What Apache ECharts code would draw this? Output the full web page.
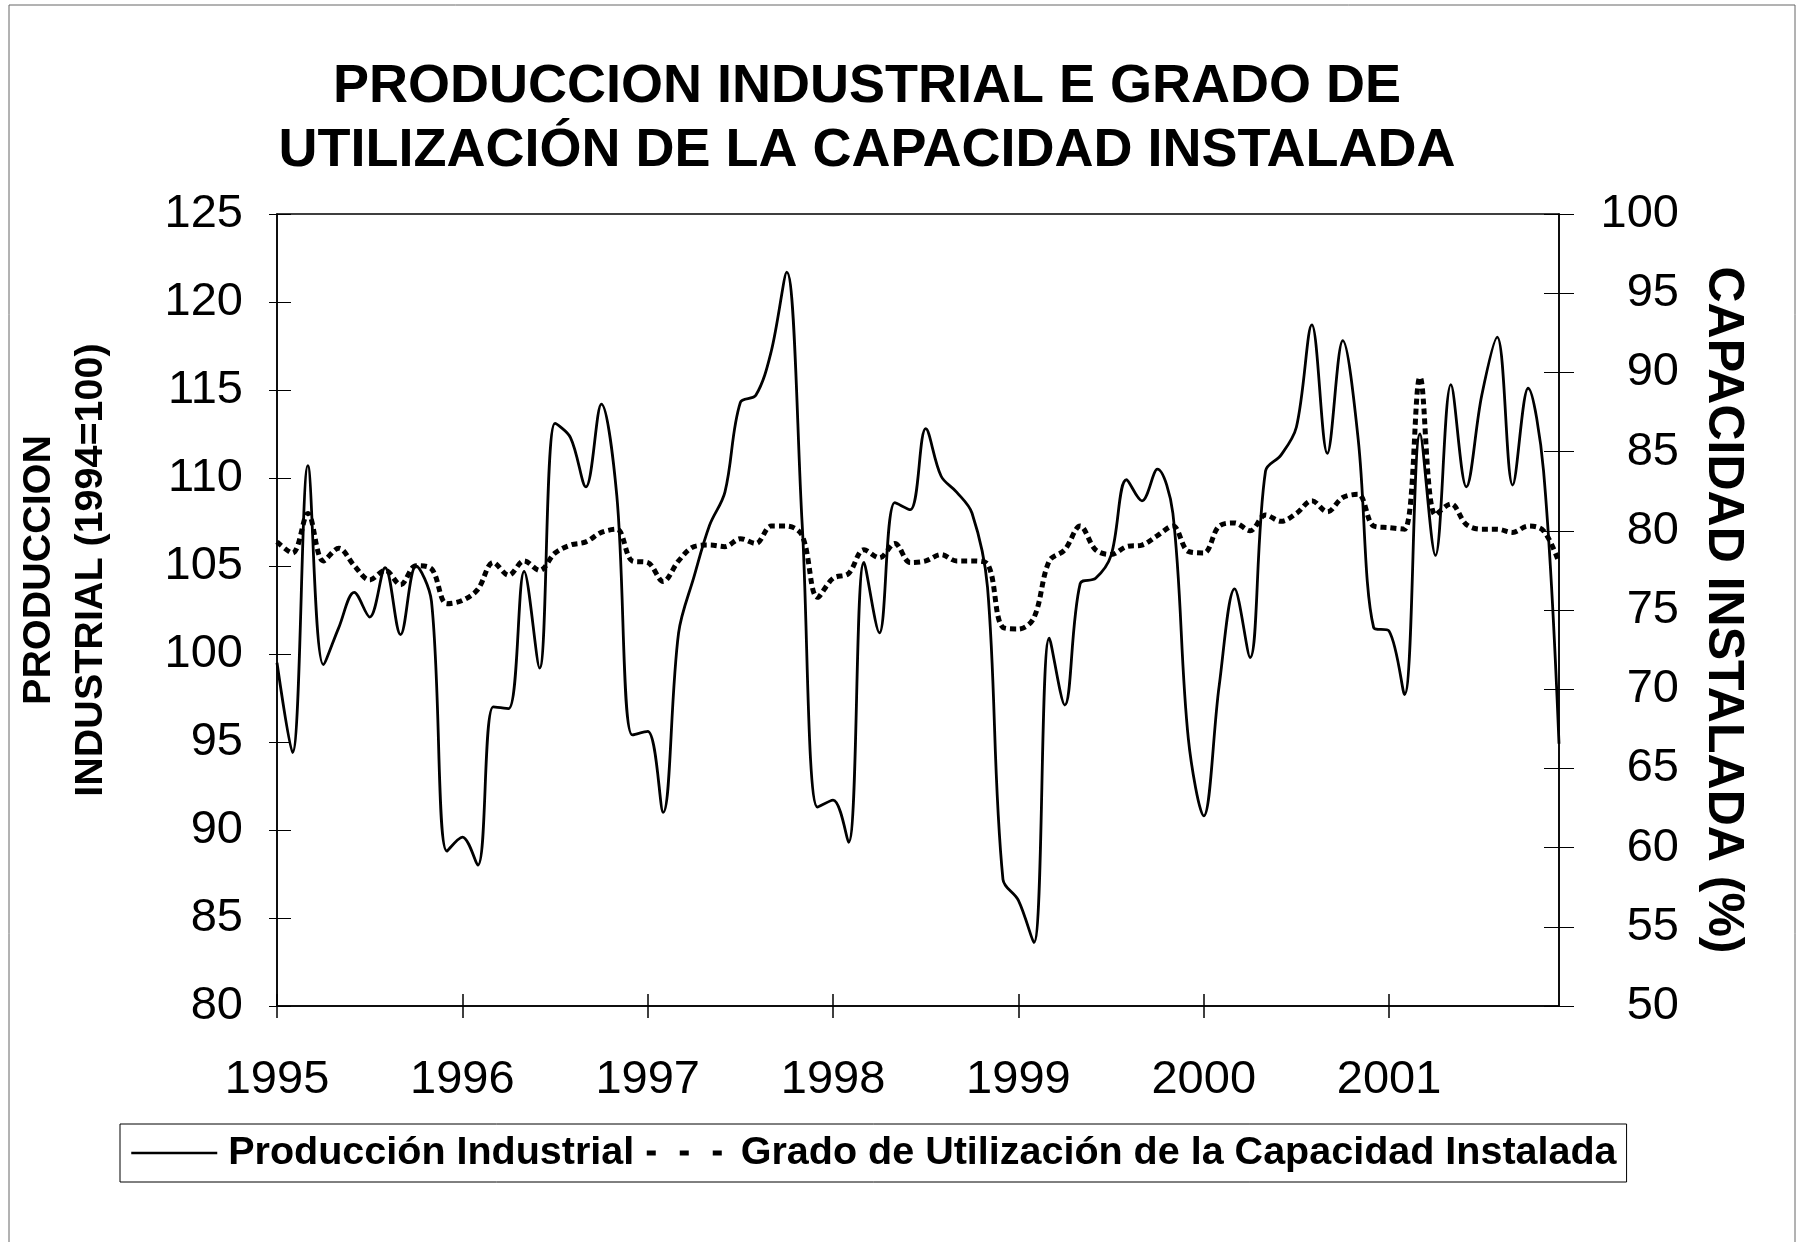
<!DOCTYPE html>
<html lang="es">

<head>
    <meta charset="UTF-8">
    <title>Produccion industrial y capacidad instalada</title>
    <script src="https://cdn.jsdelivr.net/npm/echarts@6/dist/echarts.min.js"></script>
    <style>
        html, body {
            margin: 0;
            padding: 0;
            background: #fff;
        }

        #chart {
            width: 1797px;
            height: 1242px;
        }
    </style>
</head>

<body>
    <div id="chart"></div>

    <script type="text/javascript">
        // datos mensuales 1995-2001
        var years = ['1995', '1996', '1997', '1998', '1999', '2000', '2001'];

        // Produccion industrial (1994=100), eje izquierdo
        var produccion = [
            99.5, 94.4, 110.7, 99.4, 101.5, 103.5, 102.1, 104.9, 101.1, 105.0, 103.0, 88.8,
            89.6, 88.0, 97.0, 96.9, 104.7, 99.2, 113.1, 112.3, 109.5, 114.2, 109.0, 95.4,
            95.6, 91.0, 101.2, 104.4, 107.3, 109.2, 114.3, 114.7, 117.2, 121.7, 107.4, 91.3,
            91.7, 89.3, 105.2, 101.2, 108.6, 108.2, 112.8, 110.1, 109.2, 108.0, 103.8, 87.2,
            86.0, 83.6, 100.9, 97.1, 104.0, 104.3, 105.6, 109.9, 108.7, 110.5, 108.0, 95.2,
            90.8, 98.2, 103.7, 99.8, 110.4, 111.3, 112.9, 118.7, 111.4, 117.8, 112.2, 101.5,
            101.3, 97.7, 112.5, 105.6, 115.3, 109.5, 114.7, 118.0, 109.6, 115.1, 110.4, 94.9
        ];

        // Grado de utilizacion de la capacidad instalada (%), eje derecho
        var capacidad = [
            79.3, 78.6, 81.1, 78.1, 78.9, 77.8, 76.9, 77.5, 76.6, 77.8, 77.6, 75.4,
            75.6, 76.3, 78.0, 77.2, 78.1, 77.5, 78.6, 79.1, 79.3, 79.9, 80.1, 78.1,
            78.0, 76.8, 78.1, 79.0, 79.1, 79.0, 79.5, 79.2, 80.3, 80.3, 79.7, 75.8,
            77.0, 77.3, 78.8, 78.3, 79.2, 78.0, 78.1, 78.5, 78.1, 78.1, 77.9, 73.9,
            73.8, 74.5, 78.1, 78.8, 80.3, 78.8, 78.5, 79.0, 79.1, 79.7, 80.3, 78.7,
            78.6, 80.3, 80.5, 80.0, 81.0, 80.6, 81.1, 81.9, 81.2, 82.1, 82.3, 80.3,
            80.2, 80.1, 89.7, 81.0, 81.7, 80.4, 80.1, 80.1, 79.9, 80.3, 80.0, 78.0
        ];

        // una categoria por mes
        var meses = [];
        years.forEach(function (y) {
            for (var m = 1; m <= 12; m++) {
                meses.push(y + '-' + (m < 10 ? '0' + m : m));
            }
        });

        var fuente = "'Liberation Sans', Arial, Helvetica, sans-serif";

        var myChart = echarts.init(document.getElementById('chart'));

        var option = {
            backgroundColor: '#fff',
            animation: false,
            textStyle: { fontFamily: fuente, color: '#000' },
            title: {
                text: 'PRODUCCION INDUSTRIAL E GRADO DE\nUTILIZACIÓN DE LA CAPACIDAD INSTALADA',
                left: 862,
                top: 50,
                textAlign: 'center',
                textStyle: {
                    fontFamily: fuente,
                    fontSize: 54,
                    fontWeight: 'bold',
                    lineHeight: 64,
                    color: '#000'
                }
            },
            graphic: [
                {
                    type: 'rect',
                    shape: { x: 9, y: 5, width: 1786, height: 1260 },
                    style: { fill: 'none', stroke: '#666', lineWidth: 1 },
                    silent: true
                }
            ],
            legend: {
                left: 120,
                top: 1124,
                padding: [9, 10, 9, 10],
                borderColor: '#000',
                borderWidth: 1,
                itemWidth: 86,
                itemHeight: 20,
                itemGap: 10,
                textStyle: {
                    fontFamily: fuente,
                    fontSize: 39.5,
                    fontWeight: 'bold',
                    color: '#000'
                },
                data: [
                    {
                        name: 'Producción Industrial',
                        itemStyle: { opacity: 0 },
                        lineStyle: { width: 2.5, type: 'solid' },
                        textStyle: { padding: [0, 0, 0, 6] }
                    },
                    {
                        name: 'Grado de Utilización de la Capacidad Instalada',
                        itemStyle: { opacity: 0 },
                        lineStyle: { width: 5, type: [9, 24] },
                        textStyle: { padding: [0, 0, 0, 3] }
                    }
                ]
            },
            grid: {
                left: 277,
                right: 238,
                top: 214,
                bottom: 236,
                outerBoundsMode: 'none',
                show: true,
                borderColor: '#000',
                borderWidth: 1.5,
                backgroundColor: 'transparent'
            },
            xAxis: [
                {
                    type: 'category',
                    data: meses,
                    boundaryGap: false,
                    axisLine: { lineStyle: { color: '#000', width: 1.5 } },
                    axisTick: { interval: 11, length: 12, lineStyle: { color: '#000', width: 1.5 } },
                    axisLabel: {
                        interval: 11,
                        margin: 51,
                        fontSize: 47,
                        fontFamily: fuente,
                        color: '#000',
                        formatter: function (v) { return v.slice(0, 4); }
                    },
                    splitLine: { show: false }
                },
                {
                    // marcas hacia adentro
                    type: 'category',
                    data: meses,
                    position: 'bottom',
                    boundaryGap: false,
                    axisLine: { show: false },
                    axisTick: { inside: true, interval: 11, length: 12, lineStyle: { color: '#000', width: 1.5 } },
                    axisLabel: { show: false },
                    splitLine: { show: false }
                }
            ],
            yAxis: [
                {
                    type: 'value',
                    position: 'left',
                    min: 80,
                    max: 125,
                    interval: 5,
                    name: 'PRODUCCION\nINDUSTRIAL (1994=100)',
                    nameLocation: 'middle',
                    nameRotate: 90,
                    nameGap: 160,
                    nameTextStyle: {
                        fontFamily: fuente,
                        fontSize: 39.5,
                        fontWeight: 'bold',
                        lineHeight: 52,
                        padding: [0, 0, 0, 80],
                        color: '#000'
                    },
                    axisLine: { show: true, lineStyle: { color: '#000', width: 1.5 } },
                    axisTick: { show: true, length: 8, lineStyle: { color: '#000', width: 1 } },
                    axisLabel: { margin: 34, fontSize: 47, fontFamily: fuente, color: '#000' },
                    splitLine: { show: false }
                },
                {
                    type: 'value',
                    position: 'right',
                    min: 50,
                    max: 100,
                    interval: 5,
                    name: 'CAPACIDAD INSTALADA (%)',
                    nameLocation: 'middle',
                    nameRotate: -90,
                    nameGap: 139,
                    nameTextStyle: {
                        fontFamily: fuente,
                        fontSize: 50,
                        fontWeight: 'bold',
                        color: '#000'
                    },
                    axisLine: { show: true, lineStyle: { color: '#000', width: 1.5 } },
                    axisTick: { show: true, length: 15, lineStyle: { color: '#000', width: 1 } },
                    axisLabel: { margin: 120, align: 'right', fontSize: 47, fontFamily: fuente, color: '#000' },
                    splitLine: { show: false }
                },
                {
                    type: 'value',
                    position: 'left',
                    min: 80,
                    max: 125,
                    interval: 5,
                    axisLine: { show: false },
                    axisTick: { show: true, inside: true, length: 14, lineStyle: { color: '#000', width: 1 } },
                    axisLabel: { show: false },
                    splitLine: { show: false }
                },
                {
                    type: 'value',
                    position: 'right',
                    min: 50,
                    max: 100,
                    interval: 5,
                    axisLine: { show: false },
                    axisTick: { show: true, inside: true, length: 15, lineStyle: { color: '#000', width: 1 } },
                    axisLabel: { show: false },
                    splitLine: { show: false }
                }
            ],
            series: [
                {
                    name: 'Producción Industrial',
                    type: 'line',
                    xAxisIndex: 0,
                    yAxisIndex: 0,
                    data: produccion,
                    smooth: 0.35,
                    symbol: 'none',
                    lineStyle: { color: '#000', width: 2.8, type: 'solid' },
                    itemStyle: { color: '#000' },
                    z: 3
                },
                {
                    name: 'Grado de Utilización de la Capacidad Instalada',
                    type: 'line',
                    xAxisIndex: 0,
                    yAxisIndex: 1,
                    data: capacidad,
                    smooth: 0.35,
                    symbol: 'none',
                    lineStyle: { color: '#000', width: 5, type: [6, 4] },
                    itemStyle: { color: '#000' },
                    z: 2
                }
            ]
        };

        myChart.setOption(option);
    </script>

</body>

</html>
